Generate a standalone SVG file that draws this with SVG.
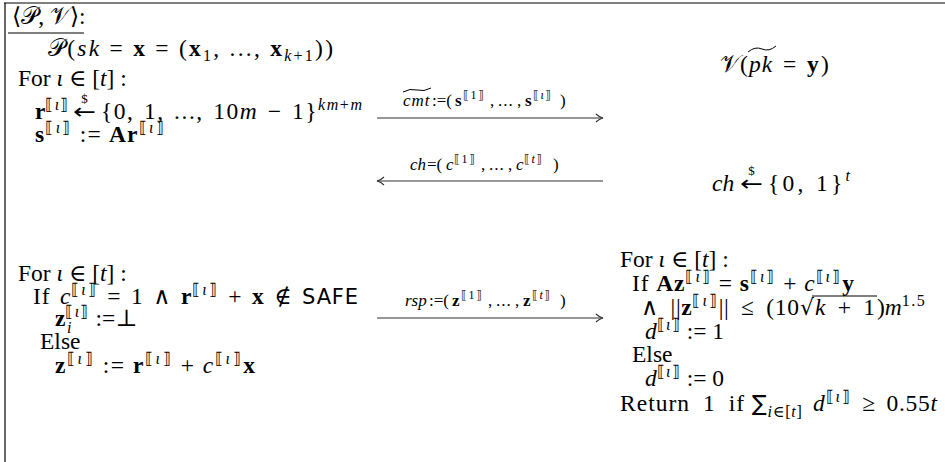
<svg xmlns="http://www.w3.org/2000/svg" width="945" height="462" viewBox="0 0 945 462">
<defs>
<style>
.t{font-family:"Liberation Serif","DejaVu Serif",serif;font-size:23.5px;fill:#000}
.i{font-style:italic}
.b{font-weight:bold}
.s{font-size:16px;letter-spacing:1.2px}
.n{font-size:16px}
.ar{font-family:"DejaVu Sans",sans-serif;font-size:22px}
.dl{font-size:13px}
.lb{font-family:"Liberation Serif","DejaVu Serif",serif;font-size:17px;fill:#000}
.ls{font-size:12px;letter-spacing:1.5px}
.sf{font-family:"DejaVu Sans","Liberation Sans",sans-serif;font-size:21px}
.rule{stroke:#000;stroke-width:1.2;fill:none}
.conn{stroke:#333;stroke-width:1.1;fill:none}
.acc{stroke:#000;stroke-width:1;fill:none}
</style>
<marker id="head" markerWidth="10" markerHeight="10" refX="8" refY="5" orient="auto" markerUnits="userSpaceOnUse">
<path d="M1,1 Q4,4 8,5 Q4,6 1,9" fill="none" stroke="#333" stroke-width="1.1"/>
</marker>
</defs>
<g id="frame">
<line class="rule" x1="4" y1="3" x2="945" y2="3"/>
<line class="rule" x1="5" y1="3" x2="5" y2="462"/>
<line class="rule" x1="8" y1="33" x2="84" y2="33"/>
</g>
<g id="header">
<text class="t" x="12" y="24" font-size="22">⟨𝒫, 𝒱⟩:</text>
<text class="t" x="48" y="56" textLength="285" lengthAdjust="spacing">𝒫(<tspan class="i">sk</tspan> = <tspan class="b">x</tspan> = (<tspan class="b">x</tspan><tspan class="n" dy="5">1</tspan><tspan dy="-5">, ..., </tspan><tspan class="b">x</tspan><tspan class="n" dy="5"><tspan class="i">k</tspan>+1</tspan><tspan dy="-5">))</tspan></text>
<text class="t"><tspan x="720" y="72">𝒱(</tspan><tspan class="i" x="749" y="72" letter-spacing="1">pk</tspan><tspan x="783" y="72">=</tspan><tspan class="b" x="807" y="72">y</tspan><tspan x="821" y="72">)</tspan></text>
<path class="acc" d="M748,52 Q755,46 762,49 Q769,52 776,46"/>
</g>
<g id="prover-commit">
<text class="t" x="18" y="86">For <tspan class="i">ι</tspan> ∈ [<tspan class="i">t</tspan>] :</text>
<text class="t" x="35" y="119"><tspan class="b">r</tspan><tspan class="s" dy="-9">⟦<tspan class="i">ι</tspan>⟧</tspan></text>
<text class="ar" x="73" y="119" textLength="23" lengthAdjust="spacingAndGlyphs">←</text>
<text class="t dl" x="84.5" y="103" text-anchor="middle">$</text>
<text class="t" x="101" y="119" textLength="261" lengthAdjust="spacing" word-spacing="2">{0, 1, ..., 10<tspan class="i">m</tspan> − 1}<tspan class="n i" dy="-9">km</tspan><tspan class="n">+</tspan><tspan class="n i">m</tspan></text>
<text class="t" x="35" y="142" textLength="130" lengthAdjust="spacing"><tspan class="b">s</tspan><tspan class="s" dy="-9">⟦<tspan class="i">ι</tspan>⟧</tspan><tspan dy="9"> := </tspan><tspan class="b">Ar</tspan><tspan class="s" dy="-9">⟦<tspan class="i">ι</tspan>⟧</tspan></text>
</g>
<g id="verifier-challenge">
<text class="t i" x="712" y="191">ch</text>
<text class="ar" x="740" y="191" textLength="23" lengthAdjust="spacingAndGlyphs">←</text>
<text class="t dl" x="751.5" y="175" text-anchor="middle">$</text>
<text class="t" x="768" y="191" textLength="82" lengthAdjust="spacing">{0, 1}<tspan class="n i" dy="-10">t</tspan></text>
</g>
<g id="prover-response">
<text class="t" x="18" y="281">For <tspan class="i">ι</tspan> ∈ [<tspan class="i">t</tspan>] :</text>
<text class="t" x="33" y="304" textLength="325" lengthAdjust="spacing" word-spacing="3">If <tspan class="i">c</tspan><tspan class="s" dy="-9">⟦<tspan class="i">ι</tspan>⟧</tspan><tspan dy="9"> = 1 ∧ </tspan><tspan class="b">r</tspan><tspan class="s" dy="-9">⟦<tspan class="i">ι</tspan>⟧</tspan><tspan dy="9"> + </tspan><tspan class="b">x</tspan> ∉ <tspan class="sf">SAFE</tspan></text>
<text class="t" x="55" y="326"><tspan class="b">z</tspan><tspan class="s" dy="-9">⟦<tspan class="i">ι</tspan>⟧</tspan><tspan dy="9"> :=⊥</tspan></text>
<text class="t n i" x="67" y="333">i</text>
<text class="t" x="40" y="349">Else</text>
<text class="t" x="55" y="373" textLength="200" lengthAdjust="spacing"><tspan class="b">z</tspan><tspan class="s" dy="-9">⟦<tspan class="i">ι</tspan>⟧</tspan><tspan dy="9"> := </tspan><tspan class="b">r</tspan><tspan class="s" dy="-9">⟦<tspan class="i">ι</tspan>⟧</tspan><tspan dy="9"> + </tspan><tspan class="i">c</tspan><tspan class="s" dy="-9">⟦<tspan class="i">ι</tspan>⟧</tspan><tspan class="b" dy="9">x</tspan></text>
</g>
<g id="verifier-check">
<text class="t" x="620" y="267">For <tspan class="i">ι</tspan> ∈ [<tspan class="i">t</tspan>] :</text>
<text class="t" x="632" y="291" textLength="222" lengthAdjust="spacing"><tspan>If </tspan><tspan class="b">Az</tspan><tspan class="s" dy="-9">⟦<tspan class="i">ι</tspan>⟧</tspan><tspan dy="9"> = </tspan><tspan class="b">s</tspan><tspan class="s" dy="-9">⟦<tspan class="i">ι</tspan>⟧</tspan><tspan dy="9"> + </tspan><tspan class="i">c</tspan><tspan class="s" dy="-9">⟦<tspan class="i">ι</tspan>⟧</tspan><tspan class="b" dy="9">y</tspan></text>
<text class="t" x="641" y="315" textLength="158" lengthAdjust="spacing" word-spacing="5">∧ ||<tspan class="b">z</tspan><tspan class="s" dy="-9">⟦<tspan class="i">ι</tspan>⟧</tspan><tspan dy="9">|| ≤ (10</tspan></text>
<text class="ar" x="800" y="315">√</text>
<text class="t" x="815" y="315" textLength="60" lengthAdjust="spacing"><tspan class="i">k</tspan> + 1</text>
<line class="acc" x1="812" y1="296" x2="877" y2="296"/>
<text class="t" x="877" y="315">)<tspan class="i">m</tspan><tspan class="n" dy="-9" font-size="17" letter-spacing="1.5">1.5</tspan></text>
<text class="t" x="645" y="339"><tspan class="i">d</tspan><tspan class="s" dy="-9">⟦<tspan class="i">ι</tspan>⟧</tspan><tspan dy="9"> := 1</tspan></text>
<text class="t" x="632" y="362">Else</text>
<text class="t" x="645" y="386"><tspan class="i">d</tspan><tspan class="s" dy="-9">⟦<tspan class="i">ι</tspan>⟧</tspan><tspan dy="9"> := 0</tspan></text>
<text class="t" x="620" y="411" textLength="124" lengthAdjust="spacing" word-spacing="6">Return 1 if</text>
<text class="t" x="752" y="411" textLength="185" lengthAdjust="spacing" word-spacing="4"><tspan class="ar">∑</tspan><tspan class="n" dy="6"><tspan class="i">i</tspan>∈[<tspan class="i">t</tspan>]</tspan><tspan class="i" dy="-6"> d</tspan><tspan class="s" dy="-9">⟦<tspan class="i">ι</tspan>⟧</tspan><tspan dy="9"> ≥ 0.55</tspan><tspan class="i">t</tspan></text>
</g>
<g id="connectors">
<line class="conn" x1="377" y1="118" x2="603" y2="118" marker-end="url(#head)"/>
<line class="conn" x1="603" y1="181" x2="377" y2="181" marker-end="url(#head)"/>
<line class="conn" x1="377" y1="318" x2="603" y2="318" marker-end="url(#head)"/>
<text class="lb"><tspan class="i" x="403" y="106" letter-spacing="1">cmt</tspan><tspan x="432" y="106">:=(</tspan><tspan class="b" x="455" y="106">s</tspan><tspan class="ls" x="463" y="99">⟦1⟧</tspan><tspan x="490" y="106">,</tspan><tspan x="498" y="106" letter-spacing="1">...</tspan><tspan x="517" y="106">,</tspan><tspan class="b" x="525" y="106">s</tspan><tspan class="ls" x="533" y="99">⟦<tspan class="i">ι</tspan>⟧</tspan><tspan x="560" y="106">)</tspan></text>
<path class="acc" d="M403,92 Q410,88 417,90 Q424,92 431,88"/>
<text class="lb"><tspan class="i" x="410" y="170">ch</tspan><tspan x="427" y="170">=(</tspan><tspan class="i" x="446" y="170">c</tspan><tspan class="ls" x="454" y="163">⟦1⟧</tspan><tspan x="481" y="170">,</tspan><tspan x="489" y="170" letter-spacing="1">...</tspan><tspan x="508" y="170">,</tspan><tspan class="i" x="516" y="170">c</tspan><tspan class="ls" x="524" y="163">⟦<tspan class="i">t</tspan>⟧</tspan><tspan x="553" y="170">)</tspan></text>
<text class="lb"><tspan class="i" x="405" y="306">rsp</tspan><tspan x="429" y="306">:=(</tspan><tspan class="b" x="452" y="306">z</tspan><tspan class="ls" x="461" y="299">⟦1⟧</tspan><tspan x="488" y="306">,</tspan><tspan x="496" y="306" letter-spacing="1">...</tspan><tspan x="515" y="306">,</tspan><tspan class="b" x="523" y="306">z</tspan><tspan class="ls" x="532" y="299">⟦<tspan class="i">t</tspan>⟧</tspan><tspan x="560" y="306">)</tspan></text>
</g>
</svg>
